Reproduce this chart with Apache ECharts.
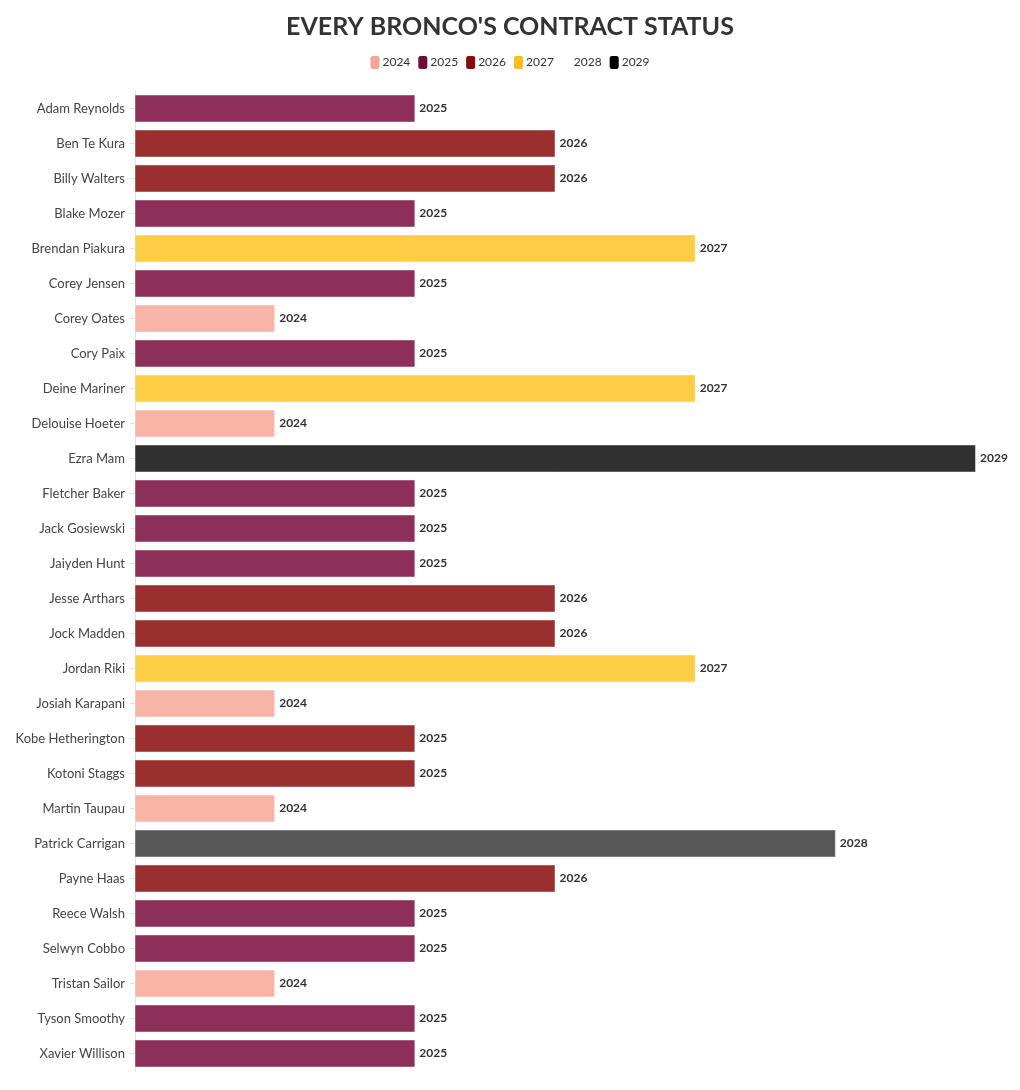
<!DOCTYPE html>
<html>
<head>
<meta charset="utf-8">
<script src="https://cdn.jsdelivr.net/npm/echarts@6/dist/echarts.min.js"></script>
<style>html,body{margin:0;padding:0;background:#fff}#c{width:1020px;height:1090px}</style>
</head>
<body>
<div id="c"></div>
<script>
const players = ["Adam Reynolds","Ben Te Kura","Billy Walters","Blake Mozer","Brendan Piakura","Corey Jensen","Corey Oates","Cory Paix","Deine Mariner","Delouise Hoeter","Ezra Mam","Fletcher Baker","Jack Gosiewski","Jaiyden Hunt","Jesse Arthars","Jock Madden","Jordan Riki","Josiah Karapani","Kobe Hetherington","Kotoni Staggs","Martin Taupau","Patrick Carrigan","Payne Haas","Reece Walsh","Selwyn Cobbo","Tristan Sailor","Tyson Smoothy","Xavier Willison"];
const contractYear = [2025,2026,2026,2025,2027,2025,2024,2025,2027,2024,2029,2025,2025,2025,2026,2026,2027,2024,2025,2025,2024,2028,2026,2025,2025,2024,2025,2025];
const colorGroup = ["2025","2026","2026","2025","2027","2025","2024","2025","2027","2024","2029","2025","2025","2025","2026","2026","2027","2024","2026","2026","2024","2028","2026","2025","2025","2024","2025","2025"];
const legendYears = ["2024","2025","2026","2027","2028","2029"];
const barColors = ["#f7b4a7","#8e2f5a","#9a2f2f","#fccd45","#575757","#303030"];
const legendColors = ["#f4a596","#6e0b3b","#850a0a","#fbbd1c","rgba(255,255,255,0)","#000000"];

const font = "Lato, 'Noto Sans', sans-serif";
const chart = echarts.init(document.getElementById('c'));
const series = legendYears.map((y, i) => ({
  name: y,
  type: 'bar',
  barGap: '-100%',
  barCategoryGap: '20%',
  data: players.map((p, k) => colorGroup[k] === y ? contractYear[k] : null),
  itemStyle: { color: barColors[i], borderColor: 'rgba(255,255,255,0.45)', borderWidth: 1 },
  label: { show: true, position: 'right', distance: 4, color: '#333', fontWeight: 'bold', fontSize: 12, fontFamily: font },
  emphasis: { disabled: true }
}));
chart.setOption({
  animation: false,
  backgroundColor: '#fff',
  title: {
    text: "EVERY BRONCO'S CONTRACT STATUS",
    left: 'center', top: 9,
    textStyle: { fontSize: 25, fontWeight: 'bold', color: '#333', fontFamily: font }
  },
  legend: {
    top: 51, left: 'center',
    icon: 'roundRect', itemWidth: 9, itemHeight: 13, itemGap: 8,
    textStyle: { fontSize: 12, color: '#333', fontFamily: font, padding: [0, 0, 0, -2] },
    data: legendYears.map((y, i) => ({ name: y, itemStyle: { color: legendColors[i], borderWidth: 0 } })),
    selectedMode: false
  },
  grid: { left: 135, right: 44, top: 91, bottom: 19, containLabel: false },
  xAxis: {
    type: 'value', min: 2023, max: 2029,
    show: false
  },
  yAxis: {
    type: 'category', inverse: true, data: players,
    axisLine: { show: true, lineStyle: { color: '#e0e0e0' } },
    axisTick: { show: true, alignWithLabel: true, length: 5, lineStyle: { color: '#e0e0e0' } },
    axisLabel: { color: '#444', fontSize: 13, fontFamily: font, margin: 10 }
  },
  series: series
});
</script>
</body>
</html>
